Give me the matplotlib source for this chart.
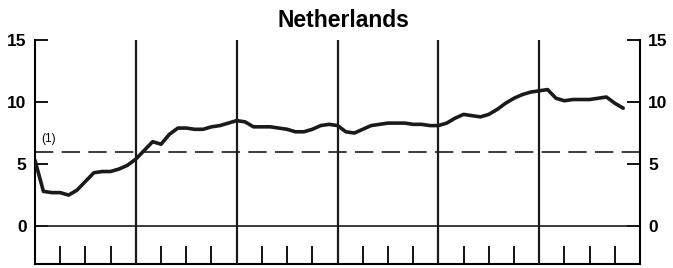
import matplotlib.pyplot as plt
import numpy as np

plt.rcParams['font.family'] = ['Liberation Sans', 'DejaVu Sans']

# monthly values, six years (month 0 = start of first year)
rate = [5.3, 2.8, 2.7, 2.7, 2.5, 2.9, 3.6, 4.3, 4.4, 4.4, 4.6, 4.9,
        5.4, 6.1, 6.8, 6.6, 7.4, 7.9, 7.9, 7.8, 7.8, 8.0, 8.1, 8.3,
        8.5, 8.4, 8.0, 8.0, 8.0, 7.9, 7.8, 7.6, 7.6, 7.8, 8.1, 8.2,
        8.1, 7.6, 7.5, 7.8, 8.1, 8.2, 8.3, 8.3, 8.3, 8.2, 8.2, 8.1,
        8.1, 8.3, 8.7, 9.0, 8.9, 8.8, 9.0, 9.4, 9.9, 10.3, 10.6, 10.8,
        10.9, 11.0, 10.3, 10.1, 10.2, 10.2, 10.2, 10.3, 10.4, 9.9, 9.5]
reference_level = 6.0
yticks = [0, 5, 10, 15]
n_years = 6

fig = plt.figure(figsize=(6.73, 2.68), dpi=100)
ax = fig.add_axes([0.052, 0.015, 0.899, 0.836])

months = np.arange(len(rate))
ax.plot(months, rate, color='#1a1a1a', lw=2.6, solid_capstyle='round',
        solid_joinstyle='round', zorder=4)

# reference level (1)
ax.axhline(reference_level, color='#1a1a1a', lw=1.2, dashes=(11, 5), zorder=2)
ax.text(0.8, 7.0, '(1)', fontsize=8.5, ha='left', va='center')

# zero line and year separators
ax.axhline(0, color='#1a1a1a', lw=1.2, zorder=2)
for yr in range(1, n_years):
    ax.axvline(12 * yr, color='#1a1a1a', lw=1.6, zorder=3)

ax.set_xlim(0, 12 * n_years)
ax.set_ylim(-3.05, 15)

# quarter ticks along the bottom
quarters = [12 * yr + q for yr in range(n_years) for q in (3, 6, 9)]
ax.set_xticks(quarters)
ax.tick_params(axis='x', direction='in', length=13, width=1.3, labelbottom=False)

ax.set_yticks(yticks)
ax.tick_params(axis='y', direction='in', length=9.5, width=1.3, labelsize=12.5,
               left=True, right=True, labelleft=True, labelright=True, pad=6)
for t in ax.yaxis.get_major_ticks():
    t.label1.set_fontweight('bold')
    t.label2.set_fontweight('bold')

ax.spines['top'].set_visible(False)
for s in ('left', 'right', 'bottom'):
    ax.spines[s].set_linewidth(1.5)

fig.text(0.511, 0.925, 'Netherlands', fontsize=16.5, fontweight='bold',
         ha='center', va='center')

fig.savefig('out.png', dpi=100)
